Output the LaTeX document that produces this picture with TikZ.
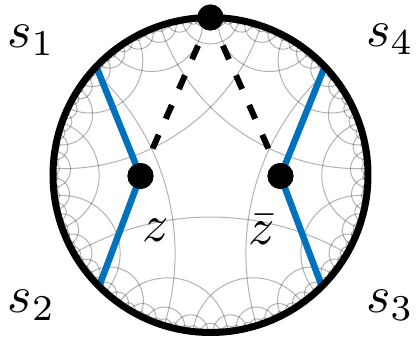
\documentclass[tikz,border=0pt]{standalone}
\definecolor{mblue}{RGB}{0,114,189}

\ExplSyntaxOn
\fp_new:N \l_hyp_a_fp
\fp_new:N \l_hyp_b_fp
\fp_new:N \l_hyp_e_fp
\fp_new:N \l_hyp_nm_fp
\fp_new:N \l_hyp_nd_fp
\tl_new:N \l_hyp_key_tl
\tl_new:N \l_hyp_item_tl
\seq_new:N \g_hyp_queue_seq
\seq_new:N \g_hyp_all_seq
\seq_new:N \g_hyp_mirrors_seq
\fp_const:Nn \c_hyp_thr_fp { 1.2 }
\fp_const:Nn \c_hyp_R_fp { 157.5 }
\fp_const:Nn \c_hyp_s_fp { 0.04 }
\fp_const:Nn \c_hyp_dz_fp { acosd(sqrt(cosd(72))) }

\cs_new_protected:Npn \hyp_fromends:
  {
    \fp_set:Nn \l_hyp_e_fp { \l_hyp_b_fp - \l_hyp_a_fp }
    \fp_set:Nn \l_hyp_e_fp { \l_hyp_e_fp - 360 * floor( \l_hyp_e_fp / 360 ) }
    \fp_compare:nNnTF { \l_hyp_e_fp } > { 180 }
      {
        \fp_set:Nn \l_hyp_nd_fp { ( 360 - \l_hyp_e_fp ) / 2 }
        \fp_set:Nn \l_hyp_nm_fp { \l_hyp_b_fp + \l_hyp_nd_fp }
      }
      {
        \fp_set:Nn \l_hyp_nd_fp { \l_hyp_e_fp / 2 }
        \fp_set:Nn \l_hyp_nm_fp { \l_hyp_a_fp + \l_hyp_nd_fp }
      }
    \fp_set:Nn \l_hyp_nm_fp { \l_hyp_nm_fp - 360 * floor( \l_hyp_nm_fp / 360 ) }
  }

\cs_new_protected:Npn \hyp_register:nn #1#2
  {
    \tl_set:Nx \l_hyp_key_tl
      { hypk \fp_eval:n { round(#1, 2) == 360 ? 0 : round(#1, 2) } / \fp_eval:n { round(#2, 2) } }
    \cs_if_exist:cF { \l_hyp_key_tl }
      {
        \cs_gset_nopar:cpn { \l_hyp_key_tl } { }
        \seq_gput_right:Nn \g_hyp_queue_seq { {#1} {#2} }
        \seq_gput_right:Nn \g_hyp_all_seq { {#1} {#2} }
      }
  }
\cs_generate_variant:Nn \hyp_register:nn { xx }

\cs_new_protected:Npn \hyp_try:nnnnn #1#2#3#4#5
  {
    \fp_set:Nn \l_hyp_a_fp
      { #3 + 2 * atand( #5 * cosd( ( (#1) - (#2) - (#3) ) / 2 ) , sind( ( (#1) - (#2) - (#3) ) / 2 ) ) }
    \fp_set:Nn \l_hyp_b_fp
      { #3 + 2 * atand( #5 * cosd( ( (#1) + (#2) - (#3) ) / 2 ) , sind( ( (#1) + (#2) - (#3) ) / 2 ) ) }
    \hyp_fromends:
    \fp_compare:nNnF { \l_hyp_nd_fp } < { \c_hyp_thr_fp }
      { \hyp_register:xx { \fp_eval:n { \l_hyp_nm_fp } } { \fp_eval:n { \l_hyp_nd_fp } } }
  }

\cs_new_protected:Npn \hyp_process:nn #1#2
  { \seq_map_inline:Nn \g_hyp_mirrors_seq { \hyp_try:nnnnn {#1} {#2} ##1 } }

\cs_new_protected:Npn \hyp_register_base:nnn #1#2#3 { \hyp_register:nn {#1} {#2} }

\cs_new_protected:Npn \hyp_build:
  {
    \int_step_inline:nnn { 0 } { 4 }
      {
        \seq_gput_right:Nx \g_hyp_mirrors_seq
          {
            { \fp_eval:n { 270 + 72 * ##1 - 360 * floor( ( 270 + 72 * ##1 ) / 360 ) } }
            { \fp_eval:n { \c_hyp_dz_fp } }
            { \fp_eval:n { tand( \c_hyp_dz_fp / 2 ) ^ 2 } }
          }
      }
    \seq_map_inline:Nn \g_hyp_mirrors_seq { \hyp_register_base:nnn ##1 }
    \bool_until_do:nn { \seq_if_empty_p:N \g_hyp_queue_seq }
      {
        \seq_gpop_left:NN \g_hyp_queue_seq \l_hyp_item_tl
        \exp_after:wN \hyp_process:nn \l_hyp_item_tl
      }
  }

\cs_new_protected:Npn \hyp_map:N #1
  {
    \fp_set:Nn #1
      { atand( sind(#1) + \c_hyp_s_fp , cosd(#1) )
        + atand( \c_hyp_s_fp * cosd(#1) , 1 + \c_hyp_s_fp * sind(#1) ) }
  }

\cs_new_protected:Npn \hyp_drawone:nn #1#2
  {
    \fp_set:Nn \l_hyp_a_fp { (#1) - (#2) }
    \fp_set:Nn \l_hyp_b_fp { (#1) + (#2) }
    \hyp_map:N \l_hyp_a_fp
    \hyp_map:N \l_hyp_b_fp
    \hyp_fromends:
    \use:x
      {
        \exp_not:N \draw [ hypline ]
          ( \fp_to_decimal:n { round( \c_hyp_R_fp * cosd( \l_hyp_nm_fp - \l_hyp_nd_fp ) , 3 ) } pt ,
            \fp_to_decimal:n { round( \c_hyp_R_fp * sind( \l_hyp_nm_fp - \l_hyp_nd_fp ) , 3 ) } pt )
          arc [ start~angle = \fp_to_decimal:n { round( \l_hyp_nm_fp + 270 - \l_hyp_nd_fp , 3 ) } ,
                end~angle = \fp_to_decimal:n { round( \l_hyp_nm_fp + 90 + \l_hyp_nd_fp , 3 ) } ,
                radius = \fp_to_decimal:n { round( \c_hyp_R_fp * tand( \l_hyp_nd_fp ) , 3 ) } pt ] ;
      }
  }

\NewDocumentCommand \hypDrawAll { }
  { \seq_map_inline:Nn \g_hyp_all_seq { \hyp_drawone:nn ##1 } }

\hyp_build:
\ExplSyntaxOff

\tikzset{
  hypline/.style={draw=black, draw opacity=0.3, line width=1pt},
  blueline/.style={draw=mblue, line width=6.5pt},
  dashline/.style={draw=black, line width=6pt, dash pattern=on 15pt off 17.5pt, dash phase=15pt},
  rim/.style={draw=black, line width=7pt},
  dot/.style={circle, fill=black, inner sep=0pt, minimum size=26pt},
  lbl/.style={inner sep=0pt, scale=5.2}
}

\begin{document}
\begin{tikzpicture}[x=1pt,y=1pt]
\useasboundingbox (-210.5,-166) rectangle (205.5,175);
% hyperbolic tiling {5,4}
\hypDrawAll
% boundary points
\coordinate (p1) at (136.5:157.5pt);
\coordinate (p2) at (225:157.5pt);
\coordinate (p3) at (315:157.5pt);
\coordinate (p4) at (43.5:157.5pt);
% dots
\node[dot] (top) at (90:157.5pt) {};
\node[dot] (z) at (-70,-1) {};
\node[dot] (zb) at (70,-1) {};
% blue geodesics
\draw[blueline] (p1) -- (z.center) -- (p2);
\draw[blueline] (p4) -- (zb.center) -- (p3);
% dashed
\draw[dashline] (top) -- (z);
\draw[dashline] (top) -- (zb);
% rim
\draw[rim] (0,0) circle (157.5pt);
% redraw dots on top
\node[dot] at (top) {};
\node[dot] at (z) {};
\node[dot] at (zb) {};
% labels
\node[lbl] (s1) at (-179.5,135) {$s_1$};
\node[lbl] (s4) at (179.5,136) {$s_4$};
\node[lbl] (s2) at (-179,-130) {$s_2$};
\node[lbl] (s3) at (179.5,-130) {$s_3$};
\node[lbl] (zl) at (-55,-55) {$z$};
\node[lbl] (zbl) at (51.5,-55) {$\bar z$};
\end{tikzpicture}
\end{document}
